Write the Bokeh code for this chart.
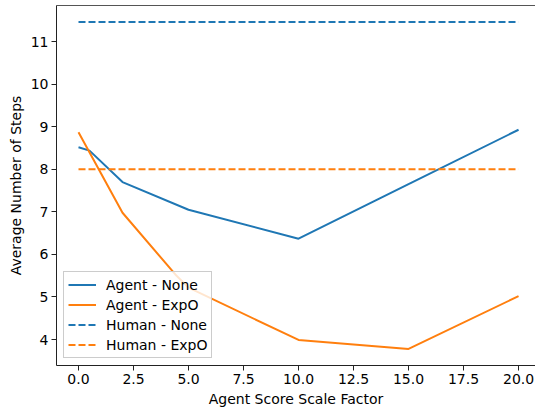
from bokeh.plotting import figure
from bokeh.models import Range1d, FixedTicker, LinearAxis, Legend, LegendItem, NumeralTickFormatter
from bokeh.embed import file_html
from bokeh.resources import INLINE

# ---- data ----
agent_none_x = [0, 0.5, 2, 5, 10, 15, 20]
agent_none_y = [8.52, 8.44, 7.70, 7.05, 6.37, 7.65, 8.93]
agent_expo_x = [0, 2, 4.4, 5, 10, 15, 20]
agent_expo_y = [8.87, 6.98, 5.53, 5.22, 3.99, 3.78, 5.02]
human_x = [0, 20]
human_none_y = [11.46, 11.46]
human_expo_y = [8.0, 8.0]
x_ticks = [0, 2.5, 5, 7.5, 10, 12.5, 15, 17.5, 20]
y_ticks = [4, 5, 6, 7, 8, 9, 10, 11]
labels = ["Agent - None", "Agent - ExpO", "Human - None", "Human - ExpO"]

BLUE = "#1f77b4"
ORANGE = "#ff7f0e"
FONT = "DejaVu Sans"
FS = "14px"

p = figure(width=535, height=409, output_backend="svg", toolbar_location=None,
           x_range=Range1d(-1, 20.77), y_range=Range1d(3.39, 11.85),
           min_border_left=56, min_border_right=0, min_border_top=5, min_border_bottom=43,
           background_fill_color="white", border_fill_color="white")
p.outline_line_color = None
p.xgrid.grid_line_color = None
p.ygrid.grid_line_color = None

for ax in (p.xaxis[0], p.yaxis[0]):
    ax.axis_line_color = "#222222"
    ax.major_tick_line_color = "#222222"
    ax.minor_tick_line_color = None
    ax.major_tick_in = 0
    ax.major_tick_out = 5
    ax.major_label_standoff = 3
    ax.major_label_text_font = FONT
    ax.major_label_text_font_size = FS
    ax.major_label_text_color = "black"
    ax.axis_label_text_font = FONT
    ax.axis_label_text_font_size = FS
    ax.axis_label_text_font_style = "normal"
    ax.axis_label_text_color = "black"
    ax.axis_label_standoff = 4

p.xaxis[0].ticker = FixedTicker(ticks=x_ticks)
p.xaxis[0].formatter = NumeralTickFormatter(format="0.0")
p.yaxis[0].ticker = FixedTicker(ticks=y_ticks)
p.xaxis[0].axis_label = "Agent Score Scale Factor"
p.yaxis[0].axis_label = "Average Number of Steps"

top = LinearAxis(ticker=FixedTicker(ticks=[]), major_label_text_font_size="0px",
                 major_tick_line_color=None, minor_tick_line_color=None,
                 major_label_standoff=0, axis_line_color="#555555")
p.add_layout(top, "above")

r1 = p.line(agent_none_x, agent_none_y, line_width=2, color=BLUE)
r2 = p.line(agent_expo_x, agent_expo_y, line_width=2, color=ORANGE)
r3 = p.line(human_x, human_none_y, line_width=2, color=BLUE, line_dash="7 3")
r4 = p.line(human_x, human_expo_y, line_width=2, color=ORANGE, line_dash="7 3")

legend = Legend(items=[LegendItem(label=l, renderers=[r]) for l, r in zip(labels, [r1, r2, r3, r4])],
                location="bottom_left", margin=7, padding=4, spacing=3,
                glyph_width=28, glyph_height=17, label_height=17, label_width=100,
                label_standoff=10,
                label_text_font=FONT, label_text_font_size=FS, label_text_color="black",
                border_line_color="#cccccc", border_line_alpha=1.0,
                background_fill_color="white", background_fill_alpha=0.8)
p.add_layout(legend, "center")

open("out.html", "w").write(file_html(p, INLINE))
